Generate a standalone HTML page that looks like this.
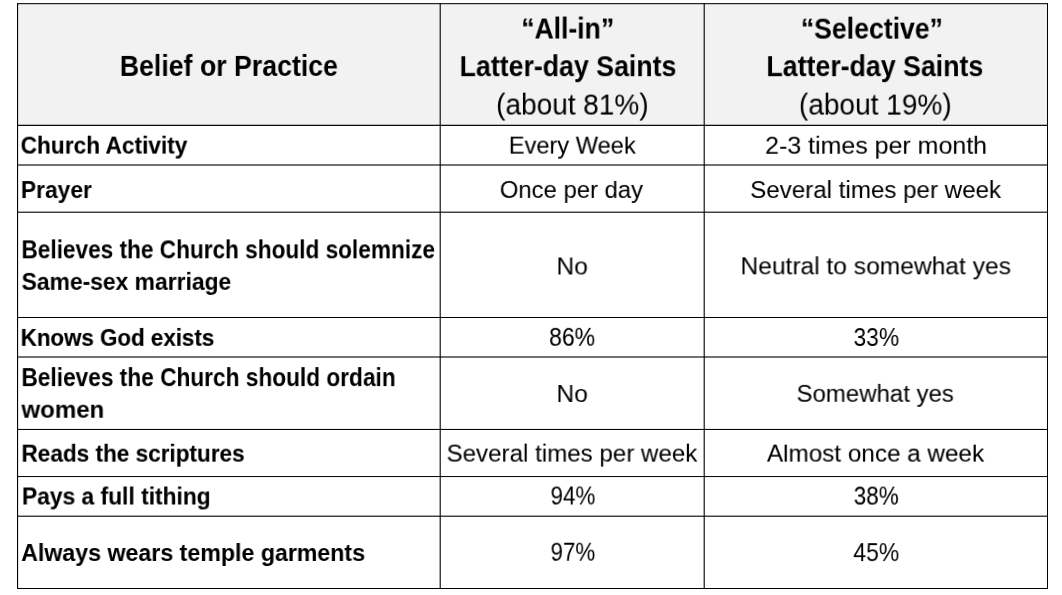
<!DOCTYPE html>
<html lang="en"><head><meta charset="utf-8"><title>Belief or Practice</title>
<style>
html,body{margin:0;padding:0;background:#fff;font-family:"Liberation Sans",sans-serif;}
body{width:1062px;height:595px;position:relative;overflow:hidden;font-family:"Liberation Sans",sans-serif;color:#000;}
svg{position:absolute;left:0;top:0;}
.t{position:absolute;left:0;top:0;white-space:nowrap;line-height:1;transform-origin:0 0;will-change:transform;font-variant-ligatures:none;}
.b{font-weight:700}
</style></head><body>
<svg width="1062" height="595" viewBox="0 0 1062 595">
<rect x="17.55" y="3.67" width="1029.95" height="121.68" fill="#f2f2f2"/>
<g fill="#000">
<rect x="17.00" y="3.145" width="1031.00" height="1.05"/>
<rect x="17.00" y="124.750" width="1031.00" height="1.2"/>
<rect x="17.00" y="164.450" width="1031.00" height="1.1"/>
<rect x="17.00" y="211.650" width="1031.00" height="1.1"/>
<rect x="17.00" y="317.000" width="1031.00" height="1.0"/>
<rect x="17.00" y="356.450" width="1031.00" height="1.1"/>
<rect x="17.00" y="428.925" width="1031.00" height="1.05"/>
<rect x="17.00" y="476.050" width="1031.00" height="1.0"/>
<rect x="17.00" y="515.650" width="1031.00" height="1.1"/>
<rect x="17.00" y="588.000" width="1031.00" height="1.0"/>
<rect x="17.000" y="3.15" width="1.1" height="585.86"/>
<rect x="439.650" y="3.15" width="1.1" height="585.86"/>
<rect x="703.650" y="3.15" width="1.1" height="585.86"/>
<rect x="1047.000" y="3.15" width="1.0" height="585.86"/>
</g></svg>
<div class="t b" style="font-size:29.24px;transform:translate(119.83px,51.91px) scale(0.9132,0.999)">Belief or Practice</div>
<div class="t b" style="font-size:29.55px;transform:translate(521.34px,13.52px) scale(0.8965,0.999);-webkit-text-stroke:0.10px #000">“All-in”</div>
<div class="t b" style="font-size:28.64px;transform:translate(459.58px,52.20px) scale(0.9337,0.999)">Latter-day Saints</div>
<div class="t" style="font-size:29.19px;transform:translate(496.12px,90.57px) scale(0.9593,0.999)">(about 81%)</div>
<div class="t b" style="font-size:29.23px;transform:translate(800.84px,14.66px) scale(0.9114,0.999)">“Selective”</div>
<div class="t b" style="font-size:28.64px;transform:translate(766.39px,52.18px) scale(0.9340,0.999)">Latter-day Saints</div>
<div class="t" style="font-size:28.95px;transform:translate(798.89px,90.62px) scale(0.9694,0.999)">(about 19%)</div>
<div class="t b" style="font-size:24.65px;transform:translate(20.65px,133.63px) scale(0.9200,0.999);-webkit-text-stroke:0.11px #000">Church Activity</div>
<div class="t" style="font-size:24.01px;transform:translate(508.82px,133.63px) scale(0.9841,0.999);-webkit-text-stroke:0.05px #000">Every Week</div>
<div class="t" style="font-size:24.38px;transform:translate(765.09px,133.71px) scale(1.0241,0.999);-webkit-text-stroke:0.06px #000">2-3 times per month</div>
<div class="t b" style="font-size:23.60px;transform:translate(20.85px,179.06px) scale(0.9668,0.999)">Prayer</div>
<div class="t" style="font-size:23.80px;transform:translate(499.80px,177.93px) scale(1.0025,0.999);-webkit-text-stroke:0.05px #000">Once per day</div>
<div class="t" style="font-size:24.40px;transform:translate(750.20px,178.02px) scale(0.9895,0.999);-webkit-text-stroke:0.04px #000">Several times per week</div>
<div class="t b" style="font-size:25.01px;transform:translate(21.44px,237.33px) scale(0.9047,0.999)">Believes the Church should solemnize</div>
<div class="t b" style="font-size:24.33px;transform:translate(21.57px,269.84px) scale(0.9397,0.999);-webkit-text-stroke:0.05px #000">Same-sex marriage</div>
<div class="t" style="font-size:23.88px;transform:translate(556.46px,254.47px) scale(1.0255,0.999);-webkit-text-stroke:0.01px #000">No</div>
<div class="t" style="font-size:24.22px;transform:translate(740.49px,254.28px) scale(1.0146,0.999);-webkit-text-stroke:0.01px #000">Neutral to somewhat yes</div>
<div class="t b" style="font-size:24.83px;transform:translate(20.70px,325.89px) scale(0.8989,0.999);-webkit-text-stroke:0.18px #000">Knows God exists</div>
<div class="t" style="font-size:25.96px;transform:translate(549.05px,324.82px) scale(0.8868,0.999);-webkit-text-stroke:0.06px #000">86%</div>
<div class="t" style="font-size:25.77px;transform:translate(853.57px,325.01px) scale(0.8815,0.999)">33%</div>
<div class="t b" style="font-size:25.05px;transform:translate(21.42px,365.12px) scale(0.9055,0.999)">Believes the Church should ordain</div>
<div class="t b" style="font-size:24.14px;transform:translate(21.46px,397.71px) scale(0.9973,0.999)">women</div>
<div class="t" style="font-size:23.88px;transform:translate(556.45px,381.97px) scale(1.0255,0.999);-webkit-text-stroke:0.01px #000">No</div>
<div class="t" style="font-size:23.78px;transform:translate(796.53px,381.82px) scale(1.0091,0.999);-webkit-text-stroke:0.01px #000">Somewhat yes</div>
<div class="t b" style="font-size:24.76px;transform:translate(21.46px,441.69px) scale(0.9116,0.999);-webkit-text-stroke:0.12px #000">Reads the scriptures</div>
<div class="t" style="font-size:24.40px;transform:translate(446.56px,441.59px) scale(0.9892,0.999);-webkit-text-stroke:0.04px #000">Several times per week</div>
<div class="t" style="font-size:24.50px;transform:translate(766.91px,441.59px) scale(0.9908,0.999);-webkit-text-stroke:0.06px #000">Almost once a week</div>
<div class="t b" style="font-size:24.72px;transform:translate(21.94px,484.46px) scale(0.9222,0.999);-webkit-text-stroke:0.11px #000">Pays a full tithing</div>
<div class="t" style="font-size:25.22px;transform:translate(550.52px,483.48px) scale(0.8901,0.999)">94%</div>
<div class="t" style="font-size:26.01px;transform:translate(853.74px,482.59px) scale(0.8625,0.999);-webkit-text-stroke:0.09px #000">38%</div>
<div class="t b" style="font-size:24.23px;transform:translate(21.16px,540.97px) scale(0.9568,0.999);-webkit-text-stroke:0.04px #000">Always wears temple garments</div>
<div class="t" style="font-size:25.24px;transform:translate(550.57px,539.75px) scale(0.8850,0.999)">97%</div>
<div class="t" style="font-size:25.96px;transform:translate(853.29px,540.13px) scale(0.8848,0.999)">45%</div>
</body></html>
